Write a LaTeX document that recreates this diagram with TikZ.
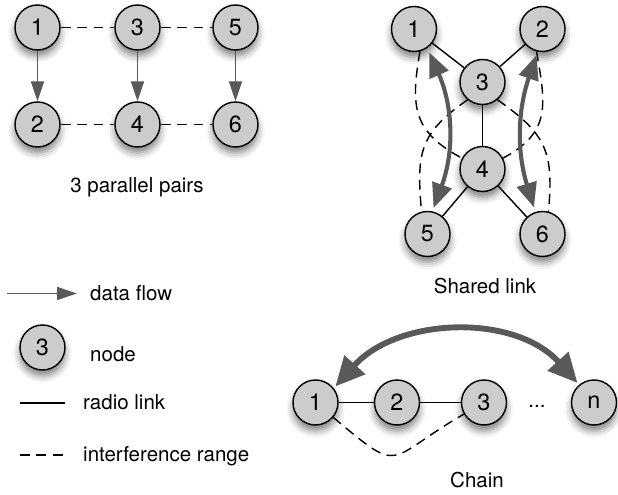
\documentclass[tikz,border=0pt]{standalone}
\usepackage{fontspec}
\setmainfont{TeX Gyre Heros}
\usepackage{tikz}
\usetikzlibrary{arrows.meta,shadows.blur,positioning}
\definecolor{hostgray}{gray}{0.8}
\definecolor{flowgray}{gray}{0.35}
\tikzset{
  host/.style={circle,draw,line width=1.2pt,fill=hostgray,minimum size=1.35cm,inner sep=0pt,
    font=\fontsize{20}{22}\selectfont,
    blur shadow={shadow xshift=0pt,shadow yshift=-5pt,shadow blur radius=6pt,shadow opacity=50}},
  lbl/.style={font=\fontsize{17.5}{20}\selectfont,inner sep=0pt,text height=12.6pt,text depth=0pt},
  radio/.style={line width=1.2pt},
  interf/.style={line width=1.2pt,dash pattern=on 8.5pt off 5.5pt},
  flow/.style={draw=flowgray,line width=1.7pt,-{Triangle[length=17pt,width=11pt]}},
  bigflow/.style={draw=flowgray,line width=3.5pt,
    {Triangle[length=21pt,width=17pt]}-{Triangle[length=21pt,width=17pt]}},
  chainflow/.style={draw=flowgray,line width=5pt,
    {Triangle[length=25pt,width=23pt]}-{Triangle[length=25pt,width=23pt]}}
}
\begin{document}
\begin{tikzpicture}[x=0.03cm,y=0.03cm]
  \useasboundingbox (0,0) rectangle (618,494);

  % 3 parallel pairs
  \node[host] (p1) at (37.5,466.5) {1};
  \node[host] (p3) at (137.5,466.5) {3};
  \node[host] (p5) at (235.5,466.5) {5};
  \node[host] (p2) at (37.5,369.5) {2};
  \node[host] (p4) at (137.5,369.5) {4};
  \node[host] (p6) at (235.5,369.5) {6};
  \foreach \a/\b in {p1/p3,p3/p5,p2/p4,p4/p6}
    \draw[interf] (\a) -- (\b);
  \foreach \a/\b in {p1/p2,p3/p4,p5/p6}
    \draw[flow] (\a) -- (\b);
  \node[lbl] (ppairs) at (137,308.5) {3 parallel pairs};

  % shared link
  \node[host] (s1) at (414,465) {1};
  \node[host] (s2) at (542.5,465) {2};
  \node[host] (s3) at (482.5,412) {3};
  \node[host] (s4) at (482.5,325) {4};
  \node[host] (s5) at (427.5,260) {5};
  \node[host] (s6) at (542.5,260) {6};
  \foreach \a/\b in {s1/s3,s2/s3,s3/s4,s4/s5,s4/s6}
    \draw[radio] (\a) -- (\b);
  \draw[interf] (s1.-75) to[out=-100,in=152,looseness=1.25] (s4.152);
  \draw[interf] (s3.230) to[out=215,in=95,looseness=1.25] (s5.105);
  \draw[interf] (s2.-105) to[out=-80,in=28,looseness=1.25] (s4.28);
  \draw[interf] (s3.-50) to[out=-35,in=85,looseness=1.25] (s6.75);
  \draw[bigflow,shorten <=4pt,shorten >=3pt] (s1.-55) to[bend left=22] (s5.78);
  \draw[bigflow,shorten <=3pt,shorten >=4pt] (s2.-102) to[bend right=18] (s6.108);
  \node[lbl] (shared) at (485,207.5) {Shared link};

  % chain
  \node[host] (c1) at (315.5,91.5) {1};
  \node[host] (c2) at (397,91.5) {2};
  \node[host] (c3) at (484,91.5) {3};
  \node[lbl,anchor=base] (cdots) at (537,86.5) {...};
  \node[host] (cn) at (594,91.5) {n};
  \draw[radio] (c1) -- (c2);
  \draw[radio] (c2) -- (c3);
  \draw[interf] (c1.-40) to[out=-40,in=-150,looseness=1.8] (c3.-150);
  \draw[chainflow,shorten <=2pt,shorten >=2pt] (c1.38) to[out=48,in=132] (cn.130);
  \node[lbl] (chain) at (477,13.5) {Chain};

  % legend
  \coordinate (la1) at (7,200.5);
  \coordinate (la2) at (77,200.5);
  \draw[flow,line width=1.3pt] (la1) -- (la2);
  \node[lbl,anchor=west] (ldata) at (90,200.5) {data flow};
  \node[host] (lnode) at (42.5,146.5) {3};
  \node[lbl,anchor=west] (lnodetxt) at (90,139.5) {node};
  \coordinate (lr1) at (20,91);
  \coordinate (lr2) at (65,91);
  \draw[radio] (lr1) -- (lr2);
  \node[lbl,anchor=west] (lradio) at (83,91.5) {radio link};
  \coordinate (li1) at (20,39);
  \coordinate (li2) at (65,39);
  \draw[interf] (li1) -- (li2);
  \node[lbl,anchor=west] (linterf) at (83,39.5) {interference range};
\end{tikzpicture}
\end{document}
